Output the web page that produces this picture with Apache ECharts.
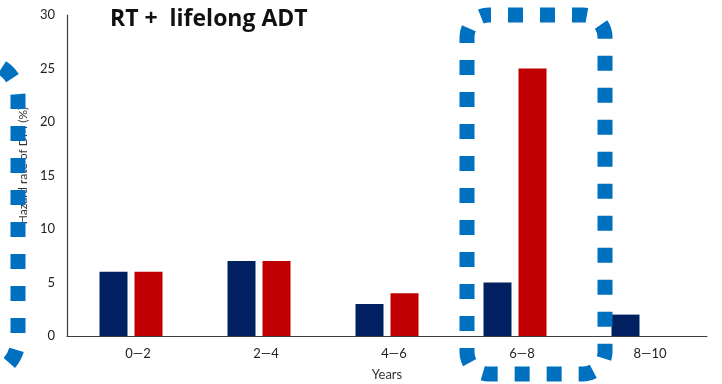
<!DOCTYPE html>
<html>
<head>
<meta charset="utf-8">
<script src="https://cdn.jsdelivr.net/npm/echarts@6/dist/echarts.min.js"></script>
<style>
  html, body { margin: 0; padding: 0; background: #ffffff; }
  #chart { width: 722px; height: 384px; }
</style>
</head>
<body>
<div id="chart"></div>
<script>
// Follow-up intervals (years) and hazard rates of distant metastasis (%)
const categories = ['0\u20142', '2\u20144', '4\u20146', '6\u20148', '8\u201410'];
const seriesA = [6, 7, 3, 5, 2];
const seriesB = [6, 7, 4, 25, 0];
const yTicks = { min: 0, max: 30, interval: 5 };

const FONT = 'Lato, "Open Sans", sans-serif';
const TITLE_FONT = '"Open Sans", Lato, sans-serif';
const NAVY = '#002060';
const RED = '#C00000';
const HIGHLIGHT = '#0070C0';

const chart = echarts.init(document.getElementById('chart'), null, { renderer: 'canvas' });

chart.setOption({
  animation: false,
  backgroundColor: '#ffffff',
  title: {
    text: 'RT +  lifelong ADT',
    left: 105,
    top: 3,
    textStyle: { fontFamily: TITLE_FONT, fontWeight: 'bold', fontSize: 23, color: '#111' }
  },
  grid: { left: 67, right: 15, top: 15, bottom: 48, containLabel: false, outerBoundsMode: 'none' },
  xAxis: {
    type: 'category',
    data: categories,
    name: 'Years',
    nameLocation: 'middle',
    nameGap: 32,
    nameTextStyle: { fontFamily: FONT, fontSize: 13, color: '#333' },
    axisLine: { show: true, lineStyle: { color: '#404040', width: 1.2 } },
    axisTick: { show: false },
    axisLabel: {
      fontFamily: FONT, fontSize: 13, color: '#222', margin: 11,
      padding: [0, 0, 0, 14]
    },
    splitLine: { show: false }
  },
  yAxis: {
    type: 'value',
    min: yTicks.min,
    max: yTicks.max,
    interval: yTicks.interval,
    name: 'Hazard rate of DM (%)',
    nameLocation: 'middle',
    nameRotate: 90,
    nameGap: 34,
    nameTextStyle: { fontFamily: FONT, fontSize: 12, color: '#333', padding: [0, 0, 0, 20] },
    axisLine: { show: true, lineStyle: { color: '#404040', width: 1.2 } },
    axisTick: { show: false },
    axisLabel: { fontFamily: FONT, fontSize: 13, color: '#222', margin: 12 },
    splitLine: { show: false }
  },
  series: [
    {
      name: 'Cohort 1',
      type: 'bar',
      data: seriesA,
      barWidth: 28,
      barGap: '25%',
      itemStyle: { color: NAVY }
    },
    {
      name: 'Cohort 2',
      type: 'bar',
      data: seriesB,
      barWidth: 28,
      itemStyle: { color: RED }
    }
  ],
  graphic: [
    {
      // dotted rounded frame around the 6–8 year interval
      type: 'rect',
      z: 100,
      shape: { x: 467, y: 15, width: 138, height: 359, r: 22 },
      style: {
        fill: 'none', stroke: HIGHLIGHT, lineWidth: 15,
        lineDash: [15, 17], lineDashOffset: 13, lineCap: 'butt'
      }
    },
    {
      // dotted frame partly outside the left edge
      type: 'rect',
      z: 100,
      shape: { x: -100, y: 62, width: 118, height: 313, r: 35 },
      style: {
        fill: 'none', stroke: HIGHLIGHT, lineWidth: 15,
        lineDash: [15, 17], lineDashOffset: 28, lineCap: 'butt'
      }
    }
  ]
});
</script>
</body>
</html>
